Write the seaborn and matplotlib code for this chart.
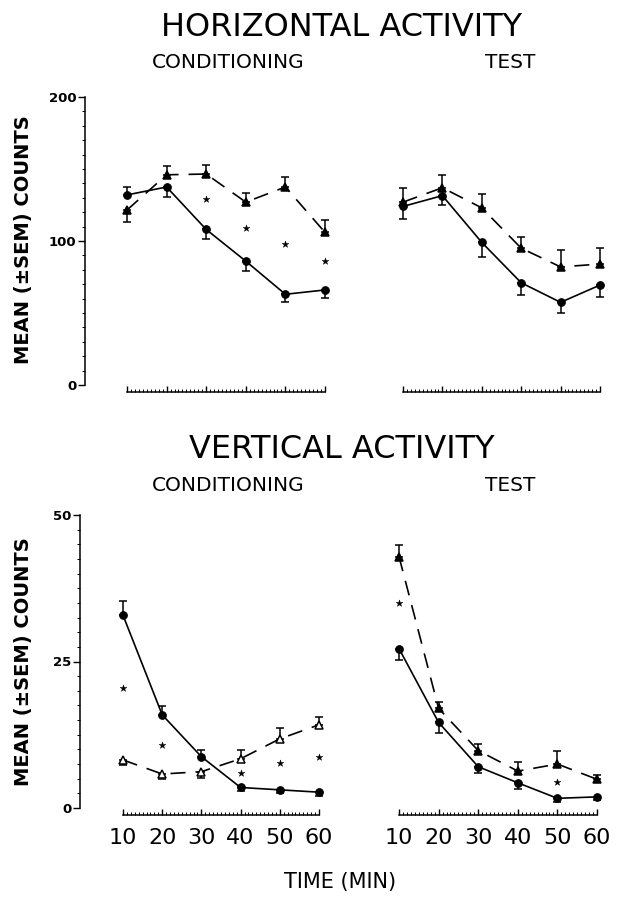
import numpy as np
import pandas as pd
import matplotlib
matplotlib.use("Agg")
import matplotlib.pyplot as plt
import seaborn as sns
from matplotlib.ticker import FixedLocator

# ---------------- data ----------------
time_min = [10, 20, 30, 40, 50, 60]

# Horizontal activity - conditioning
hc_circle = [132, 137.5, 108, 86, 63, 66]
hc_circle_lo = [0, 7, 6.5, 6.5, 5.3, 5.8]
hc_circle_hi = [5.8, 0, 0, 0, 0, 0]
hc_tri = [121.5, 146, 146.5, 127, 137.5, 106]
hc_tri_lo = [8, 0, 0, 0, 0, 0]
hc_tri_hi = [0, 6, 6, 6, 7, 8.3]
hc_star_t = [30, 40, 50, 60]
hc_star_y = [129, 109, 98, 86]

# Horizontal activity - test
ht_circle = [124, 131.5, 99, 71, 57.4, 69.4]
ht_circle_lo = [9, 6.5, 10, 8.8, 7.6, 8]
ht_circle_hi = [0, 0, 0, 0, 0, 0]
ht_tri = [127, 137, 123, 95, 82, 84]
ht_tri_lo = [0, 0, 0, 0, 0, 0]
ht_tri_hi = [10, 9, 9.7, 7.6, 11.6, 10.9]
ht_star_t = []
ht_star_y = []

# Vertical activity - conditioning
vc_circle = [32.9, 15.9, 8.75, 3.5, 3.1, 2.7]
vc_circle_lo = [0, 0, 0, 0.6, 0.6, 0.6]
vc_circle_hi = [2.4, 1.5, 1.1, 0, 0, 0]
vc_tri = [8.2, 5.8, 6.2, 8.4, 11.8, 14.2]
vc_tri_lo = [0.85, 0.9, 1.0, 0, 0, 0]
vc_tri_hi = [0, 0, 0, 1.5, 1.8, 1.4]
vc_star_t = [10, 20, 40, 50, 60]
vc_star_y = [20.4, 10.8, 6.0, 7.6, 8.75]

# Vertical activity - test
vt_circle = [27.2, 14.6, 7.05, 4.3, 1.65, 1.9]
vt_circle_lo = [2.0, 1.8, 1.0, 1.1, 0.6, 0.6]
vt_circle_hi = [0, 0, 0, 0, 0, 0]
vt_tri = [42.9, 17, 9.8, 6.3, 7.5, 4.9]
vt_tri_lo = [0, 0, 0, 0, 0, 0]
vt_tri_hi = [2.0, 1.1, 1.1, 1.5, 2.3, 0.7]
vt_star_t = [10, 50]
vt_star_y = [35, 4.5]

x_tick_labels = ["10", "20", "30", "40", "50", "60"]
h_yticks = [0, 100, 200]
v_yticks = [0, 25, 50]

# ---------------- style ----------------
sns.set_style("ticks")
plt.rcParams['font.family'] = ['DejaVu Sans']
plt.rcParams['text.color'] = 'black'
plt.rcParams['xtick.color'] = 'black'
plt.rcParams['ytick.color'] = 'black'
plt.rcParams['xtick.labelcolor'] = 'black'
plt.rcParams['ytick.labelcolor'] = 'black'
plt.rcParams['axes.edgecolor'] = 'black'

W, H = 619, 906
fig = plt.figure(figsize=(W / 100, H / 100), dpi=100)


def place(ax, L, R, T, B, x10, x60, y0, yT, ytop):
    ax.set_position([L / W, 1 - B / H, (R - L) / W, (B - T) / H])
    sx = (x60 - x10) / 50.0
    ax.set_xlim(10 + (L - x10) / sx, 10 + (R - x10) / sx)
    sy = (y0 - yT) / ytop
    ax.set_ylim((y0 - B) / sy, (y0 - T) / sy)


def draw(ax, circ, c_lo, c_hi, tri, t_lo, t_hi, st_t, st_y, tri_face):
    df_c = pd.DataFrame({"t": time_min, "v": circ})
    df_t = pd.DataFrame({"t": time_min, "v": tri})
    ax.errorbar(time_min, circ, yerr=[c_lo, c_hi], fmt="none", ecolor="black",
                elinewidth=1.1, capsize=3.2, capthick=1.1, zorder=2)
    ax.errorbar(time_min, tri, yerr=[t_lo, t_hi], fmt="none", ecolor="black",
                elinewidth=1.1, capsize=3.2, capthick=1.1, zorder=2)
    sns.lineplot(data=df_c, x="t", y="v", ax=ax, color="black", linewidth=1.2,
                 marker="o", markersize=5.5, markerfacecolor="black",
                 markeredgecolor="black", zorder=3)
    sns.lineplot(data=df_t, x="t", y="v", ax=ax, color="black", linewidth=1.2,
                 linestyle=(0, (9, 6)), marker="^", markersize=5.5,
                 markerfacecolor=tri_face, markeredgecolor="black",
                 markeredgewidth=1.1, zorder=3)
    if len(st_t):
        sns.scatterplot(x=st_t, y=st_y, ax=ax, marker="*", s=26, color="black",
                        edgecolor="black", linewidth=0.3, zorder=3)
    ax.set_xlabel("")
    ax.set_ylabel("")


def style_axes(ax, ytop, yticks, yminor, show_y, show_xlabels):
    for s in ["top", "right"]:
        ax.spines[s].set_visible(False)
    ax.spines["bottom"].set_bounds(10, 60)
    ax.spines["bottom"].set_linewidth(1.1)
    ax.xaxis.set_major_locator(FixedLocator(time_min))
    ax.xaxis.set_minor_locator(FixedLocator(np.arange(10, 61, 1)))
    ax.tick_params(axis="x", which="major", direction="in", length=4, width=1.0)
    ax.tick_params(axis="x", which="minor", direction="in", length=2, width=0.7)
    if show_xlabels:
        ax.set_xticklabels(x_tick_labels, fontsize=16)
        ax.tick_params(axis="x", which="major", pad=9)
    else:
        ax.set_xticklabels([])
    if show_y:
        ax.spines["left"].set_bounds(0, ytop)
        ax.spines["left"].set_linewidth(1.1)
        ax.yaxis.set_major_locator(FixedLocator(yticks))
        ax.yaxis.set_minor_locator(FixedLocator(np.arange(0, ytop + yminor / 2, yminor)))
        ax.set_yticklabels([str(v) for v in yticks], fontsize=9.5, fontweight="bold")
        ax.tick_params(axis="y", which="major", direction="out", length=5, width=1.0, pad=1)
        ax.tick_params(axis="y", which="minor", direction="out", length=2.5, width=0.7)
    else:
        ax.spines["left"].set_visible(False)
        ax.set_yticks([])
        ax.yaxis.set_minor_locator(plt.NullLocator())


# Top-left
ax1 = fig.add_axes([0, 0, 1, 1])
draw(ax1, hc_circle, hc_circle_lo, hc_circle_hi, hc_tri, hc_tri_lo, hc_tri_hi,
     hc_star_t, hc_star_y, "black")
style_axes(ax1, 200, h_yticks, 10, True, False)
place(ax1, 85, 332, 95, 392, 127, 325, 385, 97, 200)

# Top-right
ax2 = fig.add_axes([0, 0, 1, 1])
draw(ax2, ht_circle, ht_circle_lo, ht_circle_hi, ht_tri, ht_tri_lo, ht_tri_hi,
     ht_star_t, ht_star_y, "black")
style_axes(ax2, 200, h_yticks, 10, False, False)
place(ax2, 395, 607, 95, 392, 403, 600, 385, 97, 200)

# Bottom-left
ax3 = fig.add_axes([0, 0, 1, 1])
draw(ax3, vc_circle, vc_circle_lo, vc_circle_hi, vc_tri, vc_tri_lo, vc_tri_hi,
     vc_star_t, vc_star_y, "white")
style_axes(ax3, 50, v_yticks, 2.5, True, True)
place(ax3, 80, 327, 512, 815, 123, 319, 808, 515, 50)

# Bottom-right
ax4 = fig.add_axes([0, 0, 1, 1])
draw(ax4, vt_circle, vt_circle_lo, vt_circle_hi, vt_tri, vt_tri_lo, vt_tri_hi,
     vt_star_t, vt_star_y, "black")
style_axes(ax4, 50, v_yticks, 2.5, False, True)
place(ax4, 390, 604, 512, 815, 399, 597, 808, 515, 50)


def ftext(x, y, s, **kw):
    fig.text(x / W, 1 - y / H, s, ha="center", va="center", color="black", **kw)


ftext(342, 27, "HORIZONTAL ACTIVITY", fontsize=23)
ftext(228, 62, "CONDITIONING", fontsize=14.5)
ftext(510, 62, "TEST", fontsize=14.5)
ftext(342, 450, "VERTICAL ACTIVITY", fontsize=23)
ftext(228, 486, "CONDITIONING", fontsize=14.5)
ftext(510, 486, "TEST", fontsize=14.5)
ftext(340, 882, "TIME (MIN)", fontsize=15)
ftext(24, 240, "MEAN (\u00b1SEM) COUNTS", fontsize=14, fontweight="bold", rotation=90)
ftext(24, 662, "MEAN (\u00b1SEM) COUNTS", fontsize=14, fontweight="bold", rotation=90)

fig.savefig("out.png", dpi=100)
